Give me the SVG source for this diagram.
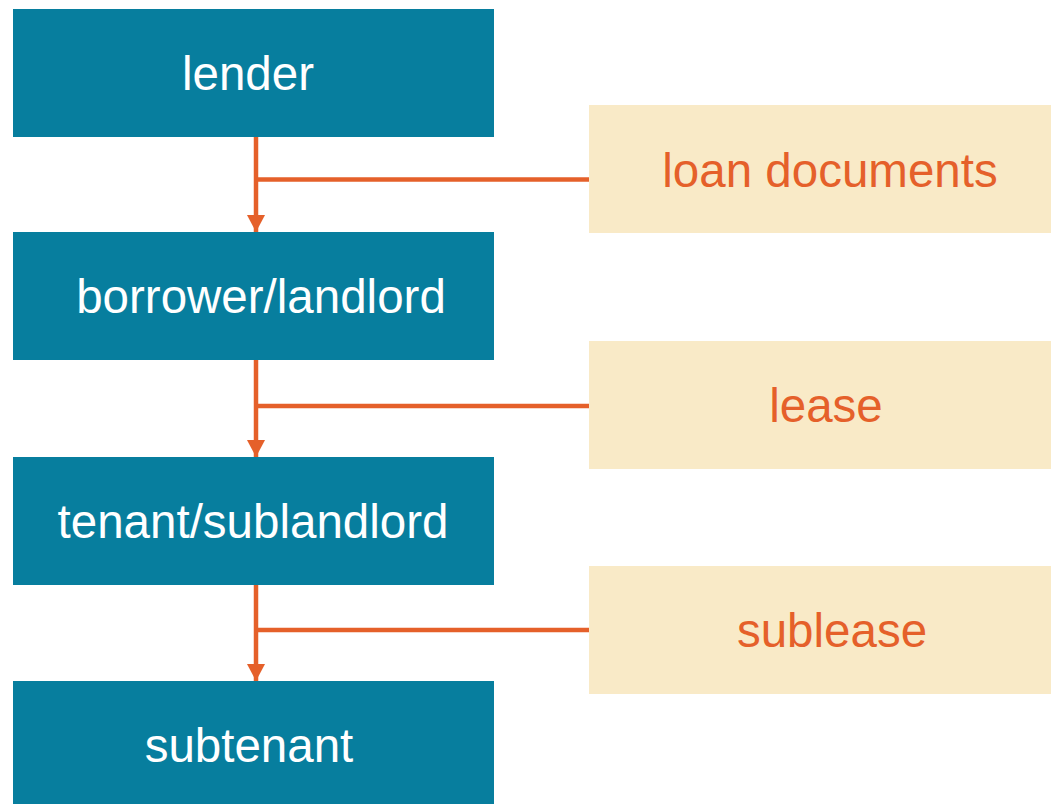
<svg xmlns="http://www.w3.org/2000/svg" width="1051" height="804" viewBox="0 0 1051 804">
<style>
.n{fill:#077E9E}
.d{fill:#F9EAC7}
.nt{font-family:"Liberation Sans",Arial,sans-serif;font-size:47.5px;fill:#FFFFFF;text-anchor:middle}
.dt{font-family:"Liberation Sans",Arial,sans-serif;font-size:47.5px;fill:#E5602A;text-anchor:middle}
.c{stroke:#E5602A;stroke-width:4.5;fill:none}
</style>
<defs>
<marker id="ah" markerUnits="userSpaceOnUse" markerWidth="18" markerHeight="18" refX="17" refY="9" orient="auto">
<path d="M0,0 L17,9 L0,18 Z" fill="#E5602A"/>
</marker>
</defs>
<rect width="1051" height="804" fill="#FFFFFF"/>
<g id="connectors">
<line class="c" x1="256" y1="137" x2="256" y2="232" marker-end="url(#ah)"/>
<line class="c" x1="256" y1="179.5" x2="590" y2="179.5"/>
<line class="c" x1="256" y1="360" x2="256" y2="457" marker-end="url(#ah)"/>
<line class="c" x1="256" y1="406" x2="590" y2="406"/>
<line class="c" x1="256" y1="585" x2="256" y2="681" marker-end="url(#ah)"/>
<line class="c" x1="256" y1="630" x2="590" y2="630"/>
</g>
<g id="lender"><rect class="n" x="13" y="9" width="481" height="128"/><text class="nt" x="248" y="90">lender</text></g>
<g id="borrower"><rect class="n" x="13" y="232" width="481" height="128"/><text class="nt" x="261" y="313">borrower/landlord</text></g>
<g id="tenant"><rect class="n" x="13" y="457" width="481" height="128"/><text class="nt" x="253" y="538">tenant/sublandlord</text></g>
<g id="subtenant"><rect class="n" x="13" y="681" width="481" height="123"/><text class="nt" x="249" y="762">subtenant</text></g>
<g id="loan"><rect class="d" x="589" y="105" width="462" height="128"/><text class="dt" x="830" y="187">loan documents</text></g>
<g id="lease"><rect class="d" x="589" y="341" width="462" height="128"/><text class="dt" x="826" y="422">lease</text></g>
<g id="sublease"><rect class="d" x="589" y="566" width="462" height="128"/><text class="dt" x="832" y="647">sublease</text></g>
</svg>
